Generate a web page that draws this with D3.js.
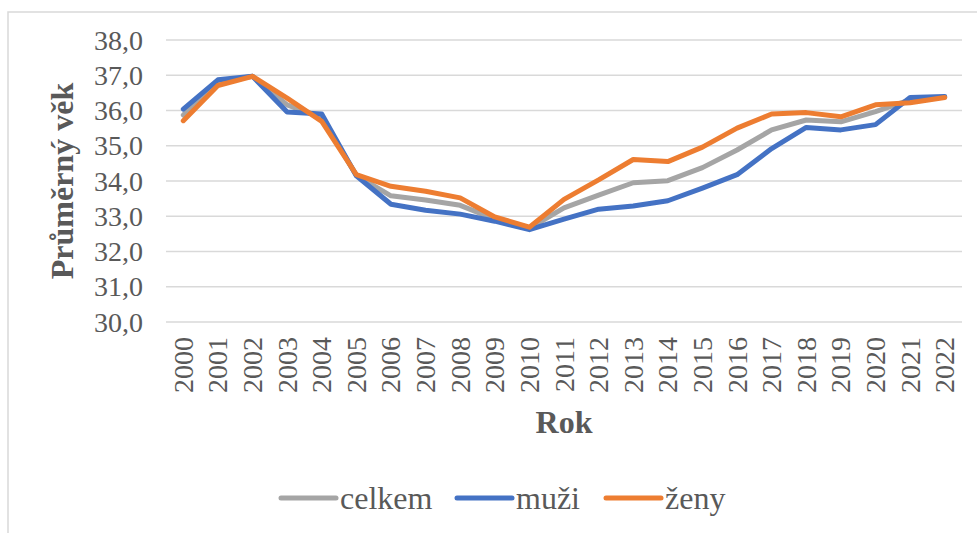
<!DOCTYPE html>
<html>
<head>
<meta charset="utf-8">
<script src="https://cdn.jsdelivr.net/npm/d3@7"></script>
<style>
  body { margin: 0; background: #fff; }
  text { font-family: "Liberation Serif", "Times New Roman", serif; fill: #595959; }
</style>
</head>
<body>
<svg width="977" height="533"></svg>
<script>
const width = 977
const height = 533

// data
const years = ["2000","2001","2002","2003","2004","2005","2006","2007","2008","2009","2010","2011",
               "2012","2013","2014","2015","2016","2017","2018","2019","2020","2021","2022"]
const celkem = [35.87, 36.80, 36.97, 36.16, 35.80, 34.16, 33.58, 33.46, 33.31, 32.92, 32.66, 33.24,
                33.60, 33.95, 34.01, 34.38, 34.88, 35.45, 35.73, 35.68, 35.97, 36.30, 36.38]
const muzi   = [36.04, 36.87, 36.97, 35.96, 35.90, 34.15, 33.34, 33.17, 33.06, 32.86, 32.62, 32.92,
                33.20, 33.29, 33.44, 33.80, 34.18, 34.92, 35.52, 35.45, 35.60, 36.37, 36.40]
const zeny   = [35.71, 36.71, 36.97, 36.35, 35.69, 34.18, 33.85, 33.71, 33.52, 32.98, 32.69, 33.48,
                34.03, 34.61, 34.55, 34.96, 35.50, 35.90, 35.94, 35.82, 36.16, 36.22, 36.37]
const yTicks = [30, 31, 32, 33, 34, 35, 36, 37, 38]
const seriesNames = ["celkem", "muži", "ženy"]
const seriesColors = ["#a5a5a5", "#4472c4", "#ed7d31"]

let margin = {top: 40, right: 15, bottom: 211, left: 166},
    plotWidth = width - margin.left - margin.right,
    plotHeight = height - margin.top - margin.bottom;

const svg = d3.select("svg")

// outer frame
svg.append("rect")
    .attr("x", 8).attr("y", 12)
    .attr("width", 990).attr("height", 540)
    .attr("fill", "none")
    .attr("stroke", "#d9d9d9")
    .attr("stroke-width", 1.5)

const g = svg.append("g")
    .attr("transform", `translate(${margin.left}, ${margin.top})`)

const x = d3.scaleBand().domain(years).range([0, plotWidth])
const y = d3.scaleLinear().domain([30, 38]).range([plotHeight, 0])

// gridlines
g.selectAll(".grid")
    .data(yTicks)
    .enter().append("line")
    .attr("x1", 0).attr("x2", plotWidth)
    .attr("y1", d => y(d)).attr("y2", d => y(d))
    .attr("stroke", "#d9d9d9")
    .attr("stroke-width", 1.5)

// y tick labels
g.selectAll(".ylab")
    .data(yTicks)
    .enter().append("text")
    .attr("x", -23)
    .attr("y", d => y(d))
    .attr("dy", "0.34em")
    .attr("text-anchor", "end")
    .attr("font-size", "28px")
    .text(d => d.toFixed(1).replace(".", ","))

// x tick labels, rotated
g.selectAll(".xlab")
    .data(years)
    .enter().append("text")
    .attr("transform", d => `translate(${x(d) + x.bandwidth() / 2}, ${plotHeight + 15}) rotate(-90)`)
    .attr("dy", "0.34em")
    .attr("text-anchor", "end")
    .attr("font-size", "28px")
    .text(d => d)

// axis titles
svg.append("text")
    .attr("transform", `translate(62, ${margin.top + plotHeight / 2}) rotate(-90)`)
    .attr("text-anchor", "middle")
    .attr("dy", "0.34em")
    .attr("font-size", "32px")
    .attr("font-weight", "bold")
    .text("Průměrný věk")

svg.append("text")
    .attr("x", margin.left + plotWidth / 2)
    .attr("y", 433)
    .attr("text-anchor", "middle")
    .attr("font-size", "32px")
    .attr("font-weight", "bold")
    .text("Rok")

// lines
const line = d3.line()
    .x((d, i) => x(years[i]) + x.bandwidth() / 2)
    .y(d => y(d))

const allSeries = [celkem, muzi, zeny]
g.selectAll(".series")
    .data(allSeries)
    .enter().append("path")
    .attr("d", d => line(d))
    .attr("fill", "none")
    .attr("stroke", (d, i) => seriesColors[i])
    .attr("stroke-width", 5)
    .attr("stroke-linejoin", "round")
    .attr("stroke-linecap", "round")

// legend
const legendX = [281, 457, 606]
const legend = svg.selectAll(".legend")
    .data(seriesNames)
    .enter().append("g")
    .attr("transform", (d, i) => `translate(${legendX[i]}, 498)`)

legend.append("line")
    .attr("x1", 0).attr("x2", 55)
    .attr("y1", 0).attr("y2", 0)
    .attr("stroke", (d, i) => seriesColors[i])
    .attr("stroke-width", 5)
    .attr("stroke-linecap", "round")

legend.append("text")
    .attr("x", 59)
    .attr("dy", "0.34em")
    .attr("font-size", "32px")
    .text(d => d)
</script>
</body>
</html>
